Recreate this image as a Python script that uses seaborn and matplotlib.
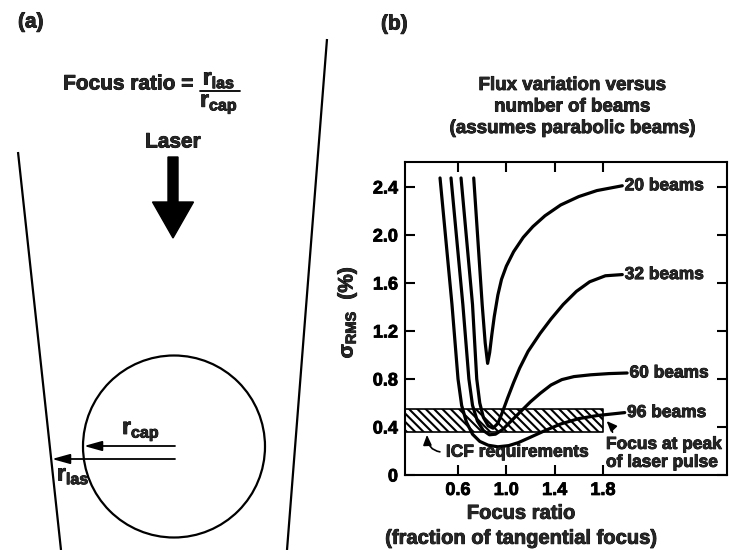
import matplotlib
matplotlib.use("Agg")
import numpy as np
import pandas as pd
import matplotlib.pyplot as plt
import matplotlib.patheffects as pe
from matplotlib.text import Text
from matplotlib.patches import Circle, FancyArrow
import seaborn as sns

# ---- Flux variation (sigma_RMS, %) versus focus ratio, one curve per beam count ----
beam_names = ["20 beams", "32 beams", "60 beams", "96 beams"]

ratio_20 = [0.73, 0.765, 0.80, 0.825, 0.845, 0.862, 0.88, 0.90, 0.93, 0.96, 1.00, 1.06, 1.14,
            1.22, 1.32, 1.45, 1.60, 1.75, 1.96]
sigma_20 = [2.475, 1.95, 1.42, 1.10, 0.93, 1.02, 1.17, 1.32, 1.50, 1.63, 1.74, 1.86, 1.98,
            2.07, 2.16, 2.25, 2.32, 2.37, 2.41]

ratio_32 = [0.625, 0.72, 0.755, 0.78, 0.81, 0.85, 0.89, 0.93, 0.97, 1.01, 1.06, 1.11, 1.18,
            1.28, 1.37, 1.47, 1.58, 1.69, 1.82, 1.96]
sigma_32 = [2.475, 1.42, 0.80, 0.60, 0.48, 0.41, 0.39, 0.43, 0.53, 0.64, 0.77, 0.89, 1.03,
            1.18, 1.30, 1.42, 1.53, 1.61, 1.66, 1.67]

ratio_60 = [0.542, 0.64, 0.69, 0.72, 0.76, 0.81, 0.86, 0.91, 0.97, 1.04, 1.12, 1.20, 1.28,
            1.37, 1.46, 1.56, 1.70, 1.85, 2.00]
sigma_60 = [2.475, 1.42, 0.80, 0.58, 0.45, 0.37, 0.335, 0.34, 0.38, 0.45, 0.53, 0.61, 0.68,
            0.75, 0.795, 0.82, 0.835, 0.845, 0.85]

ratio_96 = [0.451, 0.55, 0.60, 0.63, 0.67, 0.72, 0.78, 0.85, 0.93, 1.02, 1.10, 1.20, 1.32,
            1.45, 1.60, 1.75, 1.98]
sigma_96 = [2.475, 1.42, 0.80, 0.58, 0.44, 0.34, 0.28, 0.248, 0.235, 0.245, 0.27, 0.315, 0.37,
            0.425, 0.47, 0.495, 0.52]

x_ticks = [0.6, 1.0, 1.4, 1.8]
x_tick_labels = ["0.6", "1.0", "1.4", "1.8"]
y_ticks = [0, 0.4, 0.8, 1.2, 1.6, 2.0, 2.4]
y_tick_labels = ["0", "0.4", "0.8", "1.2", "1.6", "2.0", "2.4"]

# ICF requirement band (sigma range) and its extent in focus ratio
icf_low, icf_high = 0.355, 0.55
icf_end = 1.8

curves = {
    "20 beams": (ratio_20, sigma_20),
    "32 beams": (ratio_32, sigma_32),
    "60 beams": (ratio_60, sigma_60),
    "96 beams": (ratio_96, sigma_96),
}
df = pd.concat(
    [pd.DataFrame({"ratio": r, "sigma": s, "beams": name})
     for name, (r, s) in curves.items()],
    ignore_index=True,
)

# ---- style ----
sns.set_style("ticks")
plt.rcParams.update({
    "font.family": ["Liberation Sans", "DejaVu Sans"],
    "font.weight": "bold",
    "axes.labelweight": "bold",
    "mathtext.fontset": "custom",
    "mathtext.rm": "Liberation Sans:bold",
    "mathtext.it": "Liberation Sans:bold",
    "mathtext.bf": "Liberation Sans:bold",
    "mathtext.sf": "Liberation Sans:bold",
    "hatch.linewidth": 1.5,
    "axes.linewidth": 1.5,
    "axes.edgecolor": "black",
})

W, H = 729, 550
fig = plt.figure(figsize=(W / 100, H / 100), dpi=100)

# ---- panel (a): schematic drawn on a pixel-unit canvas ----
axa = fig.add_axes([0, 0, 0.5, 1])
axa.set_xlim(0, W / 2)
axa.set_ylim(H, 0)
axa.axis("off")

wall_left = ([18, 61], [152, 550])
wall_right = ([327, 287], [39, 550])
capsule_center, capsule_radius = (174, 446.5), 91

axa.plot(*wall_left, color="black", lw=1.6, solid_capstyle="butt")
axa.plot(*wall_right, color="black", lw=1.6, solid_capstyle="butt")
axa.add_patch(Circle(capsule_center, capsule_radius, fill=False, ec="black", lw=1.6))

arrow_kw = dict(arrowstyle="-|>,head_length=0.9,head_width=0.25", color="black",
                lw=1.3, shrinkA=0, shrinkB=0, mutation_scale=12)
axa.annotate("", xy=(84, 446), xytext=(175, 446), arrowprops=arrow_kw)
axa.annotate("", xy=(52, 459), xytext=(175, 459), arrowprops=arrow_kw)
axa.text(141, 434, r"$r_{cap}$", ha="center", va="baseline", fontsize=16.5)
axa.text(57, 475, r"$r_{las}$", ha="left", va="center", fontsize=16.5)

axa.add_patch(FancyArrow(173, 157, 0, 81, width=10, head_width=41, head_length=36,
                         length_includes_head=True, fc="black", ec="black"))
axa.text(173, 142, "Laser", ha="center", va="center", fontsize=15)

# focus ratio definition: text plus a stacked fraction
axa.text(194, 84, "Focus ratio =", ha="right", va="center", fontsize=15)
axa.text(219, 79, r"$r_{las}$", ha="center", va="center", fontsize=16.5)
axa.plot([200, 240], [91, 91], color="black", lw=1.3)
axa.text(219, 104, r"$r_{cap}$", ha="center", va="center", fontsize=16.5)

fig.text(18 / W, 1 - 22 / H, "(a)", ha="left", va="center", fontsize=15)
fig.text(381 / W, 1 - 24 / H, "(b)", ha="left", va="center", fontsize=15)

# ---- panel (b): flux variation chart ----
ax = fig.add_axes([405 / W, 75 / H, 322 / W, 313 / H])
ax.set_xlim(0.161, 2.827)
ax.set_ylim(0, 2.608)

ax.fill_between([ax.get_xlim()[0], icf_end], icf_low, icf_high, facecolor="white",
                edgecolor="black", hatch="\\\\\\\\", lw=1.2, zorder=1)

sns.lineplot(data=df, x="ratio", y="sigma", units="beams", estimator=None, sort=False,
             color="black", lw=2.3, ax=ax, zorder=3, legend=False)

for name, (r, s) in curves.items():
    ax.text(r[-1] + 0.02, s[-1], name, ha="left", va="center", fontsize=12.5,
            fontweight="bold")

ax.annotate("ICF requirements", xy=(0.343, 0.335), xytext=(0.50, 0.19),
            ha="left", va="center", fontsize=12.5, fontweight="bold",
            arrowprops=dict(arrowstyle="-|>,head_length=0.6,head_width=0.25",
                            connectionstyle="arc3,rad=-0.5", color="black", lw=1.2,
                            relpos=(0, 0.5), shrinkA=2, shrinkB=0, mutation_scale=10))
ax.annotate("Focus at peak\nof laser pulse", xy=(1.83, 0.45), xytext=(1.825, 0.18),
            ha="left", va="center", fontsize=12.5, linespacing=1.25, fontweight="bold",
            annotation_clip=False,
            arrowprops=dict(arrowstyle="-|>,head_length=0.6,head_width=0.25",
                            connectionstyle="arc3,rad=0.2", color="black", lw=1.2,
                            relpos=(0.06, 1.0), shrinkA=1, shrinkB=0, mutation_scale=10))

ax.set_xticks(x_ticks)
ax.set_xticklabels(x_tick_labels)
ax.set_yticks(y_ticks)
ax.set_yticklabels(y_tick_labels)
ax.tick_params(direction="in", length=7, width=1.5, top=True, right=True,
               labelsize=13, pad=5, colors="black")
for lab in ax.get_xticklabels() + ax.get_yticklabels():
    lab.set_fontweight("bold")
for sp in ax.spines.values():
    sp.set_visible(True)
    sp.set_color("black")

ax.set_xlabel("Focus ratio\n(fraction of tangential focus)", fontsize=14.5, linespacing=1.4,
              fontweight="bold")
ax.xaxis.set_label_coords(0.36, -0.092)
ax.set_ylabel(r"$\sigma_{RMS}$  (%)", fontsize=15, va="center", fontweight="bold")
ax.yaxis.set_label_coords(-0.18, 0.52)

fig.text(572 / W, 1 - 107 / H, "Flux variation versus\nnumber of beams\n(assumes parabolic beams)",
         ha="center", va="center", fontsize=13.5, linespacing=1.35, fontweight="bold")

# slightly heavier strokes for all lettering
for t in fig.findobj(Text):
    t.set_path_effects([pe.withStroke(linewidth=0.6, foreground="black")])

fig.savefig("out.png", dpi=100)
